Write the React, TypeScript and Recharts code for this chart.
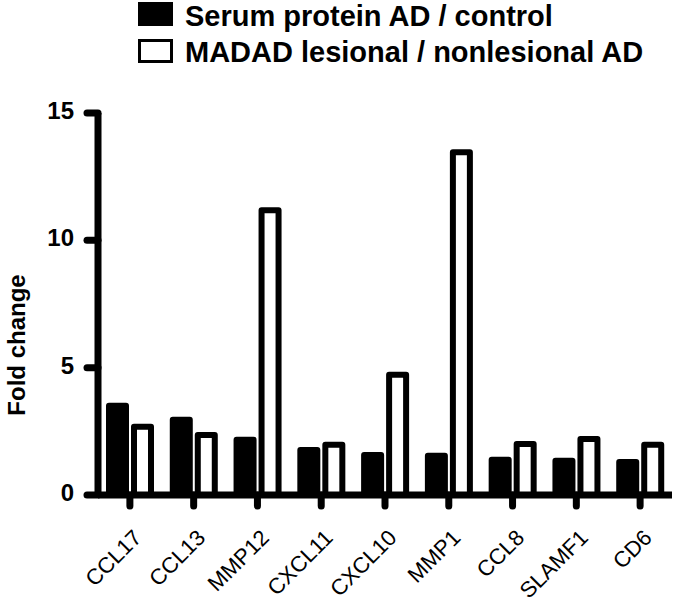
import React from "react";
import { Bar, BarChart, XAxis, YAxis } from "recharts";

const categories = ["CCL17", "CCL13", "MMP12", "CXCL11", "CXCL10", "MMP1", "CCL8", "SLAMF1", "CD6"];
const serumValues = [3.5, 2.95, 2.17, 1.77, 1.57, 1.54, 1.38, 1.34, 1.3];
const madadValues = [2.68, 2.36, 11.18, 1.97, 4.72, 13.46, 2.0, 2.2, 1.97];
const seriesNames = ["Serum protein AD / control", "MADAD lesional / nonlesional AD"];
const yTicks = [0, 5, 10, 15];
const yLabel = "Fold change";

const font = '"Liberation Sans", Arial, Helvetica, sans-serif';

const data = categories.map((name, i) => ({
    name,
    serum: serumValues[i],
    madad: madadValues[i],
}));

const YTick = (props: any) => {
    const { x, y, payload } = props;
    return (
        <text x={x} y={y} dy={6} textAnchor="end" fill="#000"
            style={{ fontFamily: font, fontSize: 24, fontWeight: 700 }}>
            {payload.value}
        </text>
    );
};

const XTick = (props: any) => {
    const { x, y, payload } = props;
    return (
        <g transform={`translate(${x + 13},${y + 31})`}>
            <text x={0} y={0} textAnchor="end" transform="rotate(-45)" fill="#000"
                style={{ fontFamily: font, fontSize: 22 }}>
                {payload.value}
            </text>
        </g>
    );
};

const YLabel = () => (
    <text x={0} y={0} transform="translate(25,345) rotate(-90)" textAnchor="middle" fill="#000"
        style={{ fontFamily: font, fontSize: 24, fontWeight: 700 }}>
        {yLabel}
    </text>
);

// legend drawn as an overlay so it doesn't push the plot area down
const LegendOverlay = () => (
    <svg width={675} height={70} style={{ position: "absolute", left: 0, top: 0 }}>
        {seriesNames.map((name, i) => (
            <g key={name}>
                <rect x={139.5} y={3.5 + i * 37} width={32} height={21}
                    fill={i === 0 ? "#000" : "#fff"} stroke="#000" strokeWidth={3} />
                <text x={185} y={26 + i * 36} fill="#000"
                    style={{ fontFamily: font, fontSize: 29, fontWeight: 700 }}>
                    {name}
                </text>
            </g>
        ))}
    </svg>
);

export default function App() {
    return (
        <div style={{ position: "absolute", left: 0, top: 0, width: 675, height: 611, background: "#fff" }}>
            <BarChart width={675} height={611} data={data}
                margin={{ top: 113, right: 3, bottom: 0, left: 0 }}
                barSize={17} barGap={8}>
                <XAxis dataKey="name" height={116} interval={0}
                    axisLine={{ stroke: "#000", strokeWidth: 7 }}
                    tickLine={{ stroke: "#000", strokeWidth: 7, strokeLinecap: "round" }}
                    tickSize={11} tick={<XTick />} />
                <YAxis width={98} domain={[0, 15]} ticks={yTicks} interval={0}
                    axisLine={{ stroke: "#000", strokeWidth: 7 }}
                    tickLine={{ stroke: "#000", strokeWidth: 7, strokeLinecap: "round" }}
                    tickSize={11} tickMargin={13} tick={<YTick />}
                    label={<YLabel />} />
                <Bar dataKey="serum" name={seriesNames[0]} fill="#000" stroke="#000"
                    strokeWidth={6} strokeLinejoin="round" isAnimationActive={false} />
                <Bar dataKey="madad" name={seriesNames[1]} fill="#fff" stroke="#000"
                    strokeWidth={6} strokeLinejoin="round" isAnimationActive={false} />
            </BarChart>
            <LegendOverlay />
        </div>
    );
}
